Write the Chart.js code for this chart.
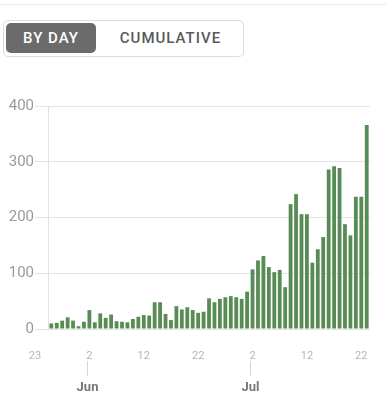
<!DOCTYPE html>
<html>
<head>
<meta charset="utf-8">
<script src="https://cdn.jsdelivr.net/npm/chart.js@4/dist/chart.umd.min.js"></script>
<style>
  html, body { margin: 0; padding: 0; background: #fff; }
  body { width: 386px; height: 400px; position: relative; overflow: hidden; font-family: Roboto, "Liberation Sans", sans-serif; }
  .topline { position: absolute; left: 0; top: 4px; width: 386px; height: 1px; background: #ebebeb; }
  .seg { position: absolute; left: 3px; top: 20px; width: 239px; height: 35px; border: 1px solid #dcdcdc; border-radius: 5px; box-sizing: content-box; }
  .btn { position: absolute; top: 2px; height: 30px; line-height: 31px; text-align: center; font-size: 15px; font-weight: 500; letter-spacing: 1px; }
  .btn.active { left: 2px; width: 90px; background: #6b6b6b; color: #fff; border-radius: 5px; }
  .btn.other { left: 94px; width: 145px; color: #5a5a5a; }
  #wrap { position: absolute; left: 0; top: 0; width: 386px; height: 400px; }
</style>
</head>
<body>
<div class="topline"></div>
<div class="seg">
  <div class="btn active">BY DAY</div>
  <div class="btn other">CUMULATIVE</div>
</div>
<div id="wrap"><canvas id="c" width="386" height="400"></canvas></div>
<script>
// ---- data ----
const originDate = "2020-05-23"; // day 0 of the axis
const dates = [
  "2020-05-26","2020-05-27","2020-05-28","2020-05-29","2020-05-30","2020-05-31",
  "2020-06-01","2020-06-02","2020-06-03","2020-06-04","2020-06-05","2020-06-06","2020-06-07","2020-06-08","2020-06-09","2020-06-10",
  "2020-06-11","2020-06-12","2020-06-13","2020-06-14","2020-06-15","2020-06-16","2020-06-17","2020-06-18","2020-06-19","2020-06-20",
  "2020-06-21","2020-06-22","2020-06-23","2020-06-24","2020-06-25","2020-06-26","2020-06-27","2020-06-28","2020-06-29","2020-06-30",
  "2020-07-01","2020-07-02","2020-07-03","2020-07-04","2020-07-05","2020-07-06","2020-07-07","2020-07-08","2020-07-09","2020-07-10",
  "2020-07-11","2020-07-12","2020-07-13","2020-07-14","2020-07-15","2020-07-16","2020-07-17","2020-07-18","2020-07-19","2020-07-20",
  "2020-07-21","2020-07-22","2020-07-23"
];
const dailyCases = [
  10, 11, 15, 21, 15, 5,
  13, 34, 12, 28, 20, 26, 14, 13, 12, 18,
  22, 25, 24, 48, 48, 27, 16, 41, 35, 39,
  34, 29, 31, 55, 48, 54, 57, 59, 57, 54,
  67, 107, 123, 131, 111, 102, 106, 75, 224, 242,
  206, 206, 119, 143, 165, 286, 292, 289, 188, 168,
  237, 237, 366
];
const xTickDates = ["2020-05-23","2020-06-02","2020-06-12","2020-06-22","2020-07-02","2020-07-12","2020-07-22"];
const xTickLabels = ["23", "2", "12", "22", "2", "12", "22"];
const monthStarts = ["2020-06-01", "2020-07-01"];
const monthLabels = ["Jun", "Jul"];
const yTicks = [0, 100, 200, 300, 400];

// ---- helpers ----
const DAY = 86400000;
function dayIndex(s) { return Math.round((Date.parse(s) - Date.parse(originDate)) / DAY); }
const points = dates.map((d, i) => ({ x: dayIndex(d), y: dailyCases[i] }));
const tickValues = xTickDates.map(dayIndex);
const monthValues = monthStarts.map(dayIndex);
const lastDay = dayIndex(dates[dates.length - 1]);

const extras = {
  id: 'extras',
  beforeDatasetsDraw(chart) {
    const { ctx, chartArea, scales } = chart;
    const x = Math.round(scales.x.getPixelForValue(points[0].x - 0.55)) + 0.5;
    ctx.save();
    ctx.strokeStyle = '#e2e2e2';
    ctx.lineWidth = 1;
    ctx.beginPath();
    ctx.moveTo(x, chartArea.top);
    ctx.lineTo(x, chartArea.bottom);
    ctx.stroke();
    ctx.restore();
  },
  afterDraw(chart) {
    const { ctx, chartArea, scales } = chart;
    ctx.save();
    monthValues.forEach((v, i) => {
      const x = Math.round(scales.x.getPixelForValue(v + 0.5)) + 0.5;
      ctx.strokeStyle = '#d6d6d6';
      ctx.lineWidth = 1;
      ctx.beginPath();
      ctx.moveTo(x, chartArea.bottom + 32);
      ctx.lineTo(x, chartArea.bottom + 47);
      ctx.stroke();
      ctx.fillStyle = '#777';
      ctx.font = 'bold 13px Roboto, "Liberation Sans", sans-serif';
      ctx.textAlign = 'center';
      ctx.textBaseline = 'middle';
      ctx.fillText(monthLabels[i], x, chartArea.bottom + 59);
    });
    ctx.restore();
  }
};

new Chart(document.getElementById('c'), {
  type: 'bar',
  data: {
    datasets: [{
      data: points,
      backgroundColor: '#588c55',
      borderWidth: 0,
      barPercentage: 0.7,
      categoryPercentage: 1
    }]
  },
  options: {
    responsive: false,
    animation: false,
    events: [],
    layout: { padding: { top: 106, right: 16, left: 0, bottom: 0 } },
    plugins: { legend: { display: false }, tooltip: { enabled: false } },
    scales: {
      x: {
        type: 'linear',
        offset: false,
        min: 0,
        max: lastDay + 0.6,
        grid: { display: false, offset: false },
        border: { display: false },
        afterBuildTicks(scale) { scale.ticks = tickValues.map(v => ({ value: v })); },
        afterFit(scale) { scale.height = 71; },
        ticks: {
          autoSkip: false,
          maxRotation: 0,
          padding: 13,
          color: '#b5b5b5',
          font: { size: 11, family: 'Roboto, "Liberation Sans", sans-serif' },
          callback(value) {
            const i = tickValues.indexOf(value);
            return i >= 0 ? xTickLabels[i] : '';
          }
        }
      },
      y: {
        min: 0,
        max: 400,
        afterBuildTicks(scale) { scale.ticks = yTicks.map(v => ({ value: v })); },
        afterFit(scale) { scale.width = 35; },
        grid: { color: '#e4e4e4', lineWidth: 1, drawTicks: false },
        border: { display: false },
        ticks: {
          padding: 1,
          color: '#9a9a9a',
          font: { size: 15, family: 'Roboto, "Liberation Sans", sans-serif' }
        }
      }
    }
  },
  plugins: [extras]
});
</script>
</body>
</html>
